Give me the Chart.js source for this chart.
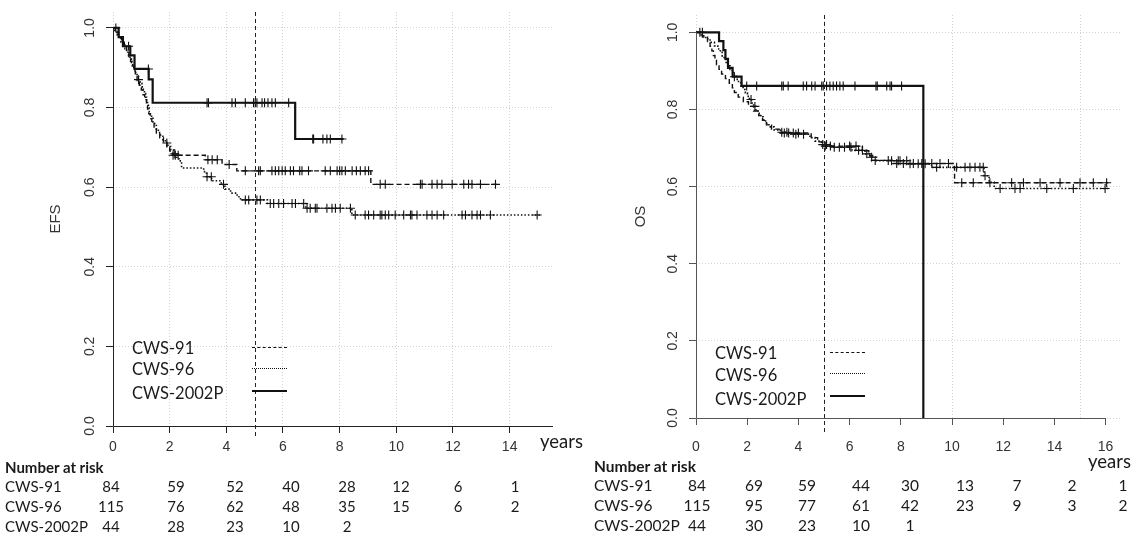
<!DOCTYPE html>
<html>
<head>
<meta charset="utf-8">
<script src="https://cdn.jsdelivr.net/npm/chart.js@4.4.1/dist/chart.umd.min.js"></script>
<style>
  body { margin: 0; background: #fff; width: 1137px; height: 541px; overflow: hidden; position: relative;
         font-family: Lato, "Open Sans", sans-serif; color: #1a1a1a; }
  .panel { position: absolute; top: 0; height: 460px; }
  .txt { position: absolute; white-space: nowrap; line-height: 1; transform: translateY(-50%); }
  .num { position: absolute; white-space: nowrap; line-height: 1; transform: translate(-50%, -50%); }
  .sample { position: absolute; width: 35px; height: 0; }
</style>
</head>
<body>
<div class="panel" style="left:0;width:580px"><canvas id="efs"></canvas></div>
<div class="panel" style="left:580px;width:557px"><canvas id="os"></canvas></div>
<div id="overlay"></div>
<script>
// ---- EFS panel (left) ----
const EFS_T_91 = [0, 0.08, 0.2, 0.3, 0.4, 0.48, 0.56, 0.62, 0.68, 0.73, 0.79, 0.85, 0.93, 1.0, 1.06, 1.12, 1.18, 1.22, 1.26, 1.31, 1.37, 1.45, 1.53, 1.65, 1.78, 1.9, 2.0, 2.1, 3.26, 3.85, 4.37, 9.1, 13.55];
const EFS_S_91 = [1, 0.988, 0.976, 0.964, 0.952, 0.94, 0.928, 0.916, 0.904, 0.892, 0.88, 0.868, 0.856, 0.844, 0.832, 0.82, 0.808, 0.796, 0.784, 0.772, 0.76, 0.748, 0.736, 0.724, 0.712, 0.70, 0.691, 0.68, 0.669, 0.657, 0.641, 0.607, 0.607];
const EFS_C_91 = [2.12, 2.2, 2.3, 3.35, 3.5, 3.68, 4.1, 4.67, 5.14, 5.2, 5.61, 5.73, 5.85, 5.97, 6.08, 6.26, 6.37, 6.59, 6.67, 6.9, 7.49, 7.67, 7.91, 8.0, 8.08, 8.2, 8.44, 8.59, 8.73, 8.9, 9.02, 9.43, 9.61, 10.85, 10.91, 11.26, 11.44, 11.61, 11.97, 12.38, 12.55, 12.67, 12.97, 13.5];

const EFS_T_96 = [0, 0.06, 0.14, 0.22, 0.28, 0.35, 0.42, 0.48, 0.55, 0.6, 0.65, 0.7, 0.75, 0.8, 0.85, 0.9, 0.96, 1.02, 1.07, 1.11, 1.15, 1.19, 1.22, 1.25, 1.28, 1.32, 1.36, 1.41, 1.47, 1.53, 1.6, 1.68, 1.76, 1.85, 1.94, 2.04, 2.15, 2.25, 2.33, 2.42, 3.2, 3.3, 3.48, 3.82, 3.95, 4.15, 4.38, 4.5, 5.45, 6.8, 8.43, 15.1];
const EFS_S_96 = [1, 0.991, 0.983, 0.974, 0.965, 0.957, 0.948, 0.939, 0.93, 0.922, 0.913, 0.904, 0.896, 0.887, 0.878, 0.87, 0.861, 0.852, 0.843, 0.835, 0.826, 0.817, 0.808, 0.799, 0.79, 0.781, 0.773, 0.764, 0.755, 0.746, 0.737, 0.728, 0.719, 0.711, 0.702, 0.693, 0.684, 0.675, 0.666, 0.648, 0.639, 0.626, 0.616, 0.607, 0.595, 0.585, 0.576, 0.568, 0.559, 0.547, 0.53, 0.53];
const EFS_C_96 = [0.9, 1.9, 2.18, 3.32, 3.47, 3.9, 4.67, 4.79, 5.08, 5.2, 5.55, 5.67, 5.85, 6.02, 6.32, 6.44, 6.73, 6.85, 6.96, 7.14, 7.2, 7.55, 7.73, 7.85, 8.02, 8.38, 8.55, 8.9, 9.02, 9.2, 9.43, 9.49, 9.61, 9.73, 9.96, 10.26, 10.5, 10.55, 10.73, 11.08, 11.26, 11.44, 11.67, 12.32, 12.44, 12.67, 12.85, 12.97, 13.32, 14.97];

const EFS_T_02 = [0, 0.2, 0.35, 0.61, 0.76, 1.26, 1.4, 6.43, 8.14];
const EFS_S_02 = [1, 0.977, 0.954, 0.931, 0.897, 0.871, 0.812, 0.721, 0.721];
const EFS_C_02 = [0.1, 0.55, 1.25, 3.32, 3.37, 4.2, 4.32, 4.67, 4.96, 5.02, 5.08, 5.26, 5.35, 5.47, 5.61, 5.73, 6.2, 7.05, 7.08, 7.41, 7.55, 7.67, 8.08];

// ---- OS panel (right) ----
const OS_T_91 = [0, 0.25, 0.45, 0.55, 0.62, 0.68, 0.74, 0.8, 0.9, 1.0, 1.15, 1.3, 1.42, 1.5, 1.65, 1.85, 2.05, 2.25, 2.45, 2.6, 2.75, 2.95, 3.25, 4.5, 4.75, 4.95, 6.5, 6.75, 6.9, 7.7, 10.1, 16.1];
const OS_S_91 = [1, 0.988, 0.976, 0.964, 0.952, 0.94, 0.928, 0.916, 0.904, 0.892, 0.88, 0.868, 0.856, 0.844, 0.832, 0.82, 0.808, 0.796, 0.784, 0.772, 0.76, 0.749, 0.739, 0.727, 0.716, 0.705, 0.693, 0.681, 0.668, 0.66, 0.61, 0.61];
const OS_C_91 = [3.45, 3.62, 3.8, 4.0, 5.05, 5.25, 6.0, 6.25, 7.0, 7.51, 7.84, 8.1, 8.49, 8.82, 9.21, 9.53, 9.86, 10.38, 10.83, 11.48, 12.33, 12.79, 13.44, 14.22, 15.0, 15.52, 16.04];

const OS_T_96 = [0, 0.2, 0.38, 0.55, 0.72, 0.85, 0.95, 1.02, 1.1, 1.18, 1.25, 1.33, 1.42, 1.5, 1.58, 1.66, 1.75, 1.84, 1.93, 2.01, 2.09, 2.17, 2.25, 2.34, 2.43, 2.52, 2.62, 2.72, 2.85, 3.05, 3.3, 3.6, 4.45, 4.65, 4.9, 5.3, 6.1, 6.6, 6.8, 7.05, 8.3, 9.2, 11.25, 11.45, 11.65, 16.1];
const OS_S_96 = [1, 0.991, 0.983, 0.974, 0.965, 0.957, 0.948, 0.939, 0.93, 0.922, 0.913, 0.904, 0.896, 0.887, 0.878, 0.869, 0.861, 0.852, 0.843, 0.834, 0.826, 0.817, 0.808, 0.799, 0.79, 0.781, 0.773, 0.764, 0.755, 0.747, 0.741, 0.736, 0.727, 0.718, 0.709, 0.702, 0.694, 0.685, 0.676, 0.667, 0.659, 0.65, 0.628, 0.611, 0.595, 0.595];
const OS_C_96 = [2.15, 2.3, 3.35, 3.55, 3.9, 4.2, 4.95, 5.1, 5.4, 5.6, 5.8, 6.05, 6.35, 6.5, 6.67, 6.86, 7.64, 7.9, 7.97, 8.23, 8.36, 8.68, 8.95, 9.4, 10.18, 10.51, 10.7, 10.9, 11.09, 11.22, 11.29, 11.88, 12.46, 12.66, 13.7, 14.74, 15.98];

const OS_T_02 = [0, 0.9, 1.07, 1.15, 1.25, 1.43, 1.78, 8.88];
const OS_S_02 = [1, 0.977, 0.954, 0.931, 0.908, 0.885, 0.861, 0];
const OS_C_02 = [0.15, 0.25, 1.5, 1.98, 2.37, 3.35, 3.41, 3.6, 4.19, 4.32, 4.52, 4.65, 4.91, 4.97, 5.1, 5.23, 5.36, 5.49, 5.62, 5.75, 6.21, 7.03, 7.08, 7.45, 7.58, 7.64, 8.03];

// ---- number at risk ----
const GROUPS = ['CWS-91', 'CWS-96', 'CWS-2002P'];
const EFS_RISK = [[84, 59, 52, 40, 28, 12, 6, 1], [115, 76, 62, 48, 35, 15, 6, 2], [44, 28, 23, 10, 2]];
const OS_RISK  = [[84, 69, 59, 44, 30, 13, 7, 2, 1], [115, 95, 77, 61, 42, 23, 9, 3, 2], [44, 30, 23, 10, 1]];

const LINE = [
    { dash: [5, 3],   width: 1.4 },
    { dash: [1.5, 2], width: 1.6 },
    { dash: [],       width: 2.2 },
];
const TICK_FONT = { family: '"Liberation Sans", Arial, sans-serif', size: 14 };

function steps(T, S) { return T.map((t, i) => ({ x: t, y: S[i] })); }
function survAt(T, S, t) {
    let s = S[0];
    for (let i = 0; i < T.length; i++) if (T[i] <= t) s = S[i];
    return s;
}
function censor(T, S, C) { return C.map(t => ({ x: t, y: survAt(T, S, t) })); }

const kmDecor = {
    id: 'kmDecor',
    afterDraw(chart, args, o) {
        const { ctx, chartArea: a, scales: { x, y } } = chart;
        ctx.save();
        const x0 = Math.round(x.getPixelForValue(0)) + 0.5;
        const y0 = Math.round(y.getPixelForValue(0)) + 0.5;
        ctx.strokeStyle = o.axisColor;
        ctx.lineWidth = 1;
        ctx.beginPath();
        ctx.moveTo(x0, y0); ctx.lineTo(x0, y.getPixelForValue(o.yAxisTop));
        ctx.moveTo(x0, y0); ctx.lineTo(x.getPixelForValue(o.xAxisEnd), y0);
        ctx.stroke();

        // 5-year landmark
        const xm = Math.round(x.getPixelForValue(o.mark)) + 0.5;
        ctx.strokeStyle = '#222';
        ctx.setLineDash([4, 3]);
        ctx.beginPath(); ctx.moveTo(xm, a.top); ctx.lineTo(xm, a.bottom + o.markExt); ctx.stroke();
        ctx.setLineDash([]);

        // R-style y labels, turned to read upwards
        ctx.fillStyle = '#333';
        ctx.font = `${TICK_FONT.size}px ${TICK_FONT.family}`;
        ctx.textAlign = 'center';
        ctx.textBaseline = 'middle';
        y.ticks.forEach(t => {
            ctx.save();
            ctx.translate(a.left - o.labelOff, y.getPixelForValue(t.value));
            ctx.rotate(-Math.PI / 2);
            ctx.fillText(t.value.toFixed(1), 0, 0);
            ctx.restore();
        });
        ctx.restore();
    },
};

function buildKm(id, o) {
    const datasets = [];
    o.series.forEach(([T, S, C], i) => {
        datasets.push({ data: steps(T, S), showLine: true, stepped: true, borderColor: '#111',
                        borderWidth: LINE[i].width, borderDash: LINE[i].dash, pointRadius: 0, fill: false });
        datasets.push({ data: censor(T, S, C), showLine: false, pointStyle: 'cross', pointRadius: 4.5,
                        borderColor: '#111', borderWidth: 1.1 });
    });

    const gridColor = '#d2d2d2';
    const scales = {
        x: {
            type: 'linear', min: 0, max: o.xMax,
            afterFit: s => { s.height = o.xH; },
            ticks: { stepSize: 2, includeBounds: false, autoSkip: false, maxRotation: 0,
                     padding: o.xPad, color: '#333', font: TICK_FONT },
            grid: { drawOnChartArea: !o.xGrid, color: gridColor, tickColor: o.axisColor, tickLength: 7 },
            border: { display: false, dash: [1, 2] },
        },
        y: {
            min: 0, max: o.yMax,
            afterFit: s => { s.width = o.yW; },
            ticks: { display: false, stepSize: 0.2, includeBounds: false },
            grid: { color: gridColor, tickColor: o.axisColor, tickLength: 7 },
            border: { display: false, dash: [1, 2] },
            title: { display: true, text: o.yTitle, color: '#333',
                     font: { family: TICK_FONT.family, size: 15 }, padding: { top: o.titlePad, bottom: 0 } },
        },
    };
    if (o.xGrid) {
        scales.x2 = {
            type: 'linear', position: 'top', min: 0, max: o.xMax,
            afterFit: s => { s.height = 0; },
            ticks: { display: false, stepSize: o.xGrid, includeBounds: false },
            grid: { color: gridColor, drawTicks: false },
            border: { display: false, dash: [1, 2] },
        };
    }

    return new Chart(document.getElementById(id).getContext('2d'), {
        type: 'scatter',
        data: { datasets },
        options: {
            responsive: true,
            maintainAspectRatio: false,
            animation: false,
            layout: { padding: o.pad },
            plugins: {
                legend: { display: false },
                tooltip: { enabled: false },
                kmDecor: { axisColor: o.axisColor, yAxisTop: 1.0, xAxisEnd: o.xAxisEnd, mark: 5,
                           markExt: o.markExt, labelOff: 23 },
            },
            scales,
        },
        plugins: [kmDecor],
    });
}

buildKm('efs', {
    series: [[EFS_T_91, EFS_S_91, EFS_C_91], [EFS_T_96, EFS_S_96, EFS_C_96], [EFS_T_02, EFS_S_02, EFS_C_02]],
    xMax: 15.53, yMax: 1.04, xAxisEnd: 15.53, yTitle: 'EFS',
    pad: { left: 0, top: 12, right: 27, bottom: 0 }, yW: 113, xH: 34, xPad: 6,
    titlePad: 47, axisColor: '#222', markExt: 12,
});
buildKm('os', {
    series: [[OS_T_91, OS_S_91, OS_C_91], [OS_T_96, OS_S_96, OS_C_96], [OS_T_02, OS_S_02, OS_C_02]],
    xMax: 16.64, yMax: 1.045, xAxisEnd: 16, yTitle: 'OS', xGrid: 5,
    pad: { left: 0, top: 15, right: 15, bottom: 0 }, yW: 116, xH: 42, xPad: 14,
    titlePad: 52, axisColor: '#555', markExt: 15,
});

// ---- legends, "years", number-at-risk tables (HTML text) ----
const overlay = document.getElementById('overlay');
function put(cls, text, x, y, style) {
    const el = document.createElement('div');
    el.className = cls;
    el.textContent = text;
    el.style.left = x + 'px';
    el.style.top = y + 'px';
    Object.assign(el.style, style || {});
    overlay.appendChild(el);
}
const SAMPLE_BORDERS = ['1.5px dashed #111', '1.5px dotted #111', '2px solid #111'];

function legend(textX, rowsY, sampleX, samplesY) {
    GROUPS.forEach((g, i) => {
        put('txt', g, textX, rowsY[i], { fontSize: '16.5px' });
        const s = document.createElement('div');
        s.className = 'sample';
        s.style.left = sampleX + 'px';
        s.style.top = samplesY[i] + 'px';
        s.style.borderTop = SAMPLE_BORDERS[i];
        overlay.appendChild(s);
    });
}
legend(132, [348, 369, 393], 252, [347, 368, 390]);
legend(715, [353, 375, 399], 830, [352, 373, 395]);

put('txt', 'years', 540, 441, { fontSize: '18.5px' });
put('txt', 'years', 1088, 461, { fontSize: '18.5px' });

function riskTable(labelX, colsX, rows, size) {
    const rowY = [486, 506, 526];
    const font = { fontSize: size + 'px' };
    put('txt', 'Number at risk', labelX, 467, { fontSize: size + 'px', fontWeight: 'bold' });
    rows.forEach((vals, r) => {
        put('txt', GROUPS[r], labelX, rowY[r], font);
        vals.forEach((v, c) => put('num', String(v), colsX[c], rowY[r], font));
    });
}
riskTable(5, [111, 176, 235, 291, 347, 401, 458, 515], EFS_RISK, 15);
riskTable(594, [697, 754, 807, 861, 910, 965, 1017, 1072, 1123], OS_RISK, 15.5);
</script>
</body>
</html>
